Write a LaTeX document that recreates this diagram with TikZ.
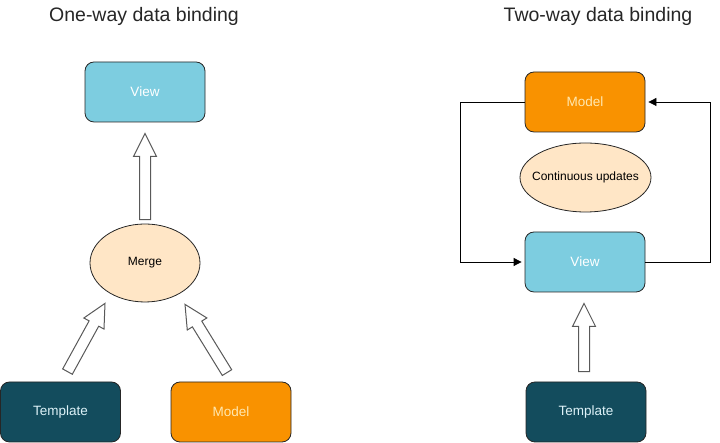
\documentclass[tikz,border=0pt]{standalone}
\usepackage{fontspec}
\setmainfont{Liberation Sans}
\usetikzlibrary{arrows.meta,calc,shapes.geometric}

\definecolor{viewblue}{HTML}{7DCDE0}
\definecolor{tealdark}{HTML}{134C5D}
\definecolor{modelorange}{HTML}{F99200}
\definecolor{cream}{HTML}{FFE6C6}
\definecolor{paletext}{HTML}{DDF2F8}
\definecolor{yellowtext}{HTML}{FFE8B0}

\tikzset{
	box/.style={draw=black!85,line width=0.8pt,rounded corners=9pt,minimum width=120pt,minimum height=60pt,font=\fontsize{13.5}{16}\selectfont},
	bubble/.style={draw=black!85,line width=0.8pt,ellipse,inner sep=0pt,fill=cream,label={[font=\fontsize{12}{14}\selectfont]center:#1}},
	title/.style={font=\fontsize{19.5}{22}\selectfont,text=black!85},
	hollow/.style={draw=black!65,line width=1pt,fill=white,line join=miter},
	conn/.style={draw=black,line width=0.8pt,-{Triangle[length=8pt,width=8pt]},shorten >=3pt}
}

% block arrow from #1 to #2
\newcommand{\fatarrow}[2]{%
	\coordinate (hb) at ($(#2)!23pt!(#1)$);
	\draw[hollow] ($(#1)!5.5pt!90:(#2)$) -- ($(hb)!5.5pt!90:(#2)$) -- ($(hb)!11.5pt!90:(#2)$) -- (#2)
		-- ($(hb)!11.5pt!-90:(#2)$) -- ($(hb)!5.5pt!-90:(#2)$) -- ($(#1)!5.5pt!-90:(#2)$) -- cycle;
}

\begin{document}
\begin{tikzpicture}[x=1pt,y=1pt]
	\useasboundingbox (0,0) rectangle (720,443);

	% one-way
	\node[title] (t1) at (144,427) {One-way data binding};
	\node[box,fill=viewblue,text=white] (view1) at (145,351) {View};
	\node[bubble=Merge,minimum width=110pt,minimum height=78pt] (merge) at (145,180) {};
	\node[box,fill=tealdark,text=paletext] (tmpl1) at (60.5,31) {Template};
	\node[box,fill=modelorange,text=yellowtext] (model1) at (231,31) {Model};

	\coordinate (a1) at ($(merge.north)+(0,4)$);
	\coordinate (b1) at ($(view1.south)+(0,-11)$);
	\coordinate (a2) at ($(tmpl1.north)+(7,10)$);
	\coordinate (b2) at ($(merge.south)+(-40,-1)$);
	\coordinate (a3) at ($(model1.north)+(-4,9)$);
	\coordinate (b3) at ($(merge.south)+(40,-2)$);
	\fatarrow{a1}{b1}
	\fatarrow{a2}{b2}
	\fatarrow{a3}{b3}

	% two-way
	\node[title] (t2) at (598,427) {Two-way data binding};
	\node[box,fill=modelorange,text=yellowtext] (model2) at (585,341) {Model};
	\node[bubble=Continuous updates,minimum width=131pt,minimum height=69pt] (cont) at (585.5,265.5) {};
	\node[box,fill=viewblue,text=white] (view2) at (585,181) {View};
	\node[box,fill=tealdark,text=paletext] (tmpl2) at (586,31) {Template};

	\draw[conn] (model2.west) -- ++(-64,0) |- (view2.west);
	\draw[conn] (view2.east) -- ++(65,0) |- (model2.east);

	\coordinate (a4) at ($(tmpl2.north)+(-2,10)$);
	\coordinate (b4) at ($(view2.south)+(-1,-11)$);
	\fatarrow{a4}{b4}
\end{tikzpicture}
\end{document}
